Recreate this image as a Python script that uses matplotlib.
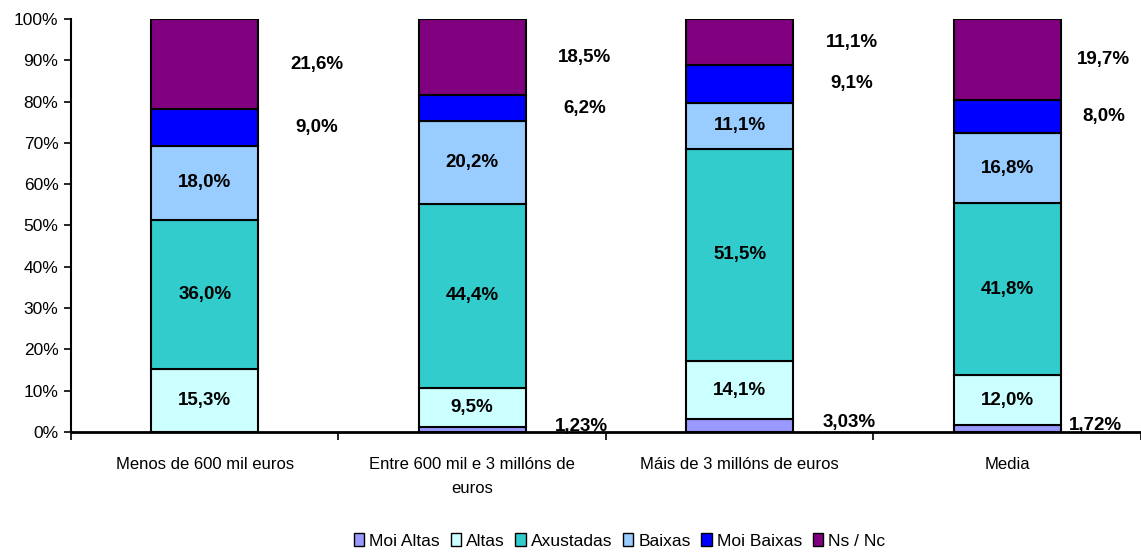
import matplotlib.pyplot as plt
import numpy as np

plt.rcParams['font.family'] = ['Liberation Sans', 'DejaVu Sans']

categories = ['Menos de 600 mil euros', 'Entre 600 mil e 3 millóns de\neuros',
              'Máis de 3 millóns de euros', 'Media']
series_names = ['Moi Altas', 'Altas', 'Axustadas', 'Baixas', 'Moi Baixas', 'Ns / Nc']
moi_altas = [0.0, 1.23, 3.03, 1.72]
altas = [15.3, 9.5, 14.1, 12.0]
axustadas = [36.0, 44.4, 51.5, 41.8]
baixas = [18.0, 20.2, 11.1, 16.8]
moi_baixas = [9.0, 6.2, 9.1, 8.0]
ns_nc = [21.6, 18.5, 11.1, 19.7]
colors = ['#9999FF', '#CCFFFF', '#33CCCC', '#99CCFF', '#0000FF', '#800080']

series = [moi_altas, altas, axustadas, baixas, moi_baixas, ns_nc]

fig = plt.figure(figsize=(11.41, 5.52), dpi=100)
ax = fig.add_axes([0.0622, 0.2174, 0.9378, 0.7482])

x = np.arange(len(categories))
width = 0.4
bottom = np.zeros(len(categories))
for i, (name, vals, col) in enumerate(zip(series_names, series, colors)):
    vals = np.array(vals)
    ax.bar(x, vals, width, bottom=bottom, color=col, edgecolor='black',
           linewidth=1.5, label=name)
    for j in range(len(categories)):
        v = vals[j]
        if v <= 0:
            continue
        mid = bottom[j] + v / 2
        # labels of the small/top series sit to the right of the bar
        xr = min(x[j] + 0.42, 3.36)
        if i == 0:
            txt = f'{v:.2f}%'.replace('.', ',')
            ax.text(min(x[j] + 0.41, 3.33), mid + 0.8, txt, ha='center',
                    va='center', fontsize=13.5, fontweight='bold')
        elif i >= 4:
            txt = f'{v:.1f}%'.replace('.', ',')
            ax.text(xr, mid, txt, ha='center', va='center',
                    fontsize=13.5, fontweight='bold')
        else:
            txt = f'{v:.1f}%'.replace('.', ',')
            ax.text(x[j], mid, txt, ha='center', va='center',
                    fontsize=13.5, fontweight='bold')
    bottom += vals

ax.set_xlim(-0.5, 3.5)
ax.set_ylim(0, 100)
ax.set_yticks(np.arange(0, 101, 10))
ax.set_yticklabels([f'{t}%' for t in range(0, 101, 10)], fontsize=12.5)
ax.set_xticks(x)
ax.set_xticklabels(categories, fontsize=12, linespacing=1.75, va='top')
ax.set_xticks(np.arange(-0.5, 3.6, 1), minor=True)
ax.tick_params(axis='x', which='major', length=0, pad=18)
ax.tick_params(axis='x', which='minor', length=6, width=1.2, direction='out')
ax.tick_params(axis='y', length=5, width=1.2, direction='out', pad=4)
ax.spines['top'].set_visible(False)
ax.spines['right'].set_visible(False)
ax.spines['left'].set_linewidth(1.5)
ax.spines['bottom'].set_linewidth(2)

leg = fig.legend(loc='center', bbox_to_anchor=(0.543, 0.02), ncol=6,
                 frameon=False, fontsize=12.5, handlelength=0.6,
                 handleheight=0.8, handletextpad=0.3, columnspacing=0.6)
for h in leg.legend_handles:
    h.set_linewidth(1.0)

fig.savefig('out.png', dpi=100)
